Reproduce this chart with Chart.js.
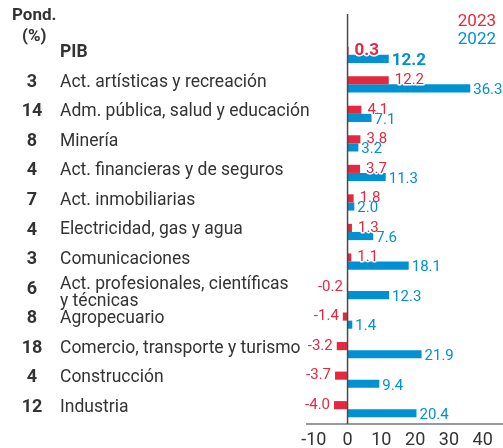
<!DOCTYPE html>
<html>
<head>
<meta charset="utf-8">
<script src="https://cdn.jsdelivr.net/npm/chart.js@4"></script>
<style>
  body { margin: 0; background: #fff; }
</style>
</head>
<body>
<canvas id="chart" width="503" height="448"></canvas>
<script>
const categories = ['PIB', 'Act. artísticas y recreación', 'Adm. pública, salud y educación', 'Minería',
    'Act. financieras y de seguros', 'Act. inmobiliarias', 'Electricidad, gas y agua', 'Comunicaciones',
    ['Act. profesionales, científicas', 'y técnicas'], 'Agropecuario', 'Comercio, transporte y turismo',
    'Construcción', 'Industria'];
const weights = ['', '3', '14', '8', '4', '7', '4', '3', '6', '8', '18', '4', '12'];
const values2023 = [0.3, 12.2, 4.1, 3.8, 3.7, 1.8, 1.3, 1.1, -0.2, -1.4, -3.2, -3.7, -4.0];
const values2022 = [12.2, 36.3, 7.1, 3.2, 11.3, 2.0, 7.6, 18.1, 12.3, 1.4, 21.9, 9.4, 20.4];
const xTicks = [-10, 0, 10, 20, 30, 40];

const RED = '#e3283f';
const BLUE = '#0091d2';
const FONT = "Roboto, sans-serif";

// labels, weights, zero line and value labels
const decorPlugin = {
    id: 'decor',
    afterDatasetsDraw(chart) {
        const ctx = chart.ctx;
        const x = chart.scales.x;
        const y = chart.scales.y;
        const area = chart.chartArea;

        // zero line
        const x0 = x.getPixelForValue(0);
        ctx.save();
        ctx.strokeStyle = '#4a4a4a';
        ctx.lineWidth = 1.5;
        ctx.beginPath();
        ctx.moveTo(x0, 14);
        ctx.lineTo(x0, area.bottom);
        ctx.stroke();

        // header
        ctx.fillStyle = '#333';
        ctx.font = 'bold 17px ' + FONT;
        ctx.textBaseline = 'middle';
        ctx.textAlign = 'left';
        ctx.fillText('Pond.', 12, 16);
        ctx.fillText('(%)', 22, 37);

        // legend
        ctx.font = '17px ' + FONT;
        ctx.textAlign = 'right';
        ctx.fillStyle = RED;
        ctx.fillText(chart.data.datasets[0].label, 496, 22);
        ctx.fillStyle = BLUE;
        ctx.fillText(chart.data.datasets[1].label, 496, 40);

        // category labels
        categories.forEach((cat, i) => {
            const cy = y.getPixelForValue(i) - 2;
            ctx.fillStyle = '#333';
            ctx.textAlign = 'center';
            ctx.font = 'bold 18px ' + FONT;
            ctx.fillText(weights[i], 32, cy);
            ctx.textAlign = 'left';
            ctx.font = (i === 0 ? 'bold 17.5px ' : '17.5px ') + FONT;
            if (Array.isArray(cat)) {
                ctx.fillText(cat[0], 60, cy - 4);
                ctx.fillText(cat[1], 60, cy + 13);
            } else {
                ctx.fillText(cat, 60, cy);
            }
        });

        // value labels
        chart.data.datasets.forEach((ds, d) => {
            const meta = chart.getDatasetMeta(d);
            meta.data.forEach((bar, i) => {
                const v = ds.data[i];
                const txt = v.toFixed(1);
                ctx.font = (i === 0 ? 'bold 17px ' : '15px ') + FONT;
                const gap = d === 0 ? 6 : 3;
                let tx;
                if (v >= 0) {
                    ctx.textAlign = 'left';
                    tx = bar.x + gap;
                } else {
                    ctx.textAlign = 'right';
                    tx = bar.x - 4;
                }
                const ty = bar.y + (d === 0 ? 0 : 2);
                if (d === 0) {
                    ctx.strokeStyle = '#fff';
                    ctx.lineWidth = 3;
                    ctx.lineJoin = 'round';
                    ctx.strokeText(txt, tx, ty);
                }
                ctx.fillStyle = ds.backgroundColor;
                ctx.fillText(txt, tx, ty);
            });
        });
        ctx.restore();
    }
};

new Chart(document.getElementById('chart').getContext('2d'), {
    type: 'bar',
    data: {
        labels: categories,
        datasets: [
            { label: '2023', data: values2023, backgroundColor: RED },
            { label: '2022', data: values2022, backgroundColor: BLUE }
        ]
    },
    options: {
        indexAxis: 'y',
        responsive: false,
        animation: false,
        layout: { padding: { top: 40, left: 307, right: 0, bottom: 0 } },
        datasets: { bar: { categoryPercentage: 0.55, barPercentage: 1 } },
        plugins: {
            legend: { display: false },
            tooltip: { enabled: false }
        },
        scales: {
            y: { display: false },
            x: {
                min: -12,
                max: 46,
                afterBuildTicks: scale => { scale.ticks = xTicks.map(v => ({ value: v })); },
                afterFit: scale => { scale.height = 24; },
                grid: { display: false, drawTicks: false },
                border: { display: true, color: '#999', width: 2 },
                ticks: { color: '#333', font: { family: FONT, size: 18, lineHeight: 1 }, padding: 7, maxRotation: 0 }
            }
        }
    },
    plugins: [decorPlugin]
});
</script>
</body>
</html>
